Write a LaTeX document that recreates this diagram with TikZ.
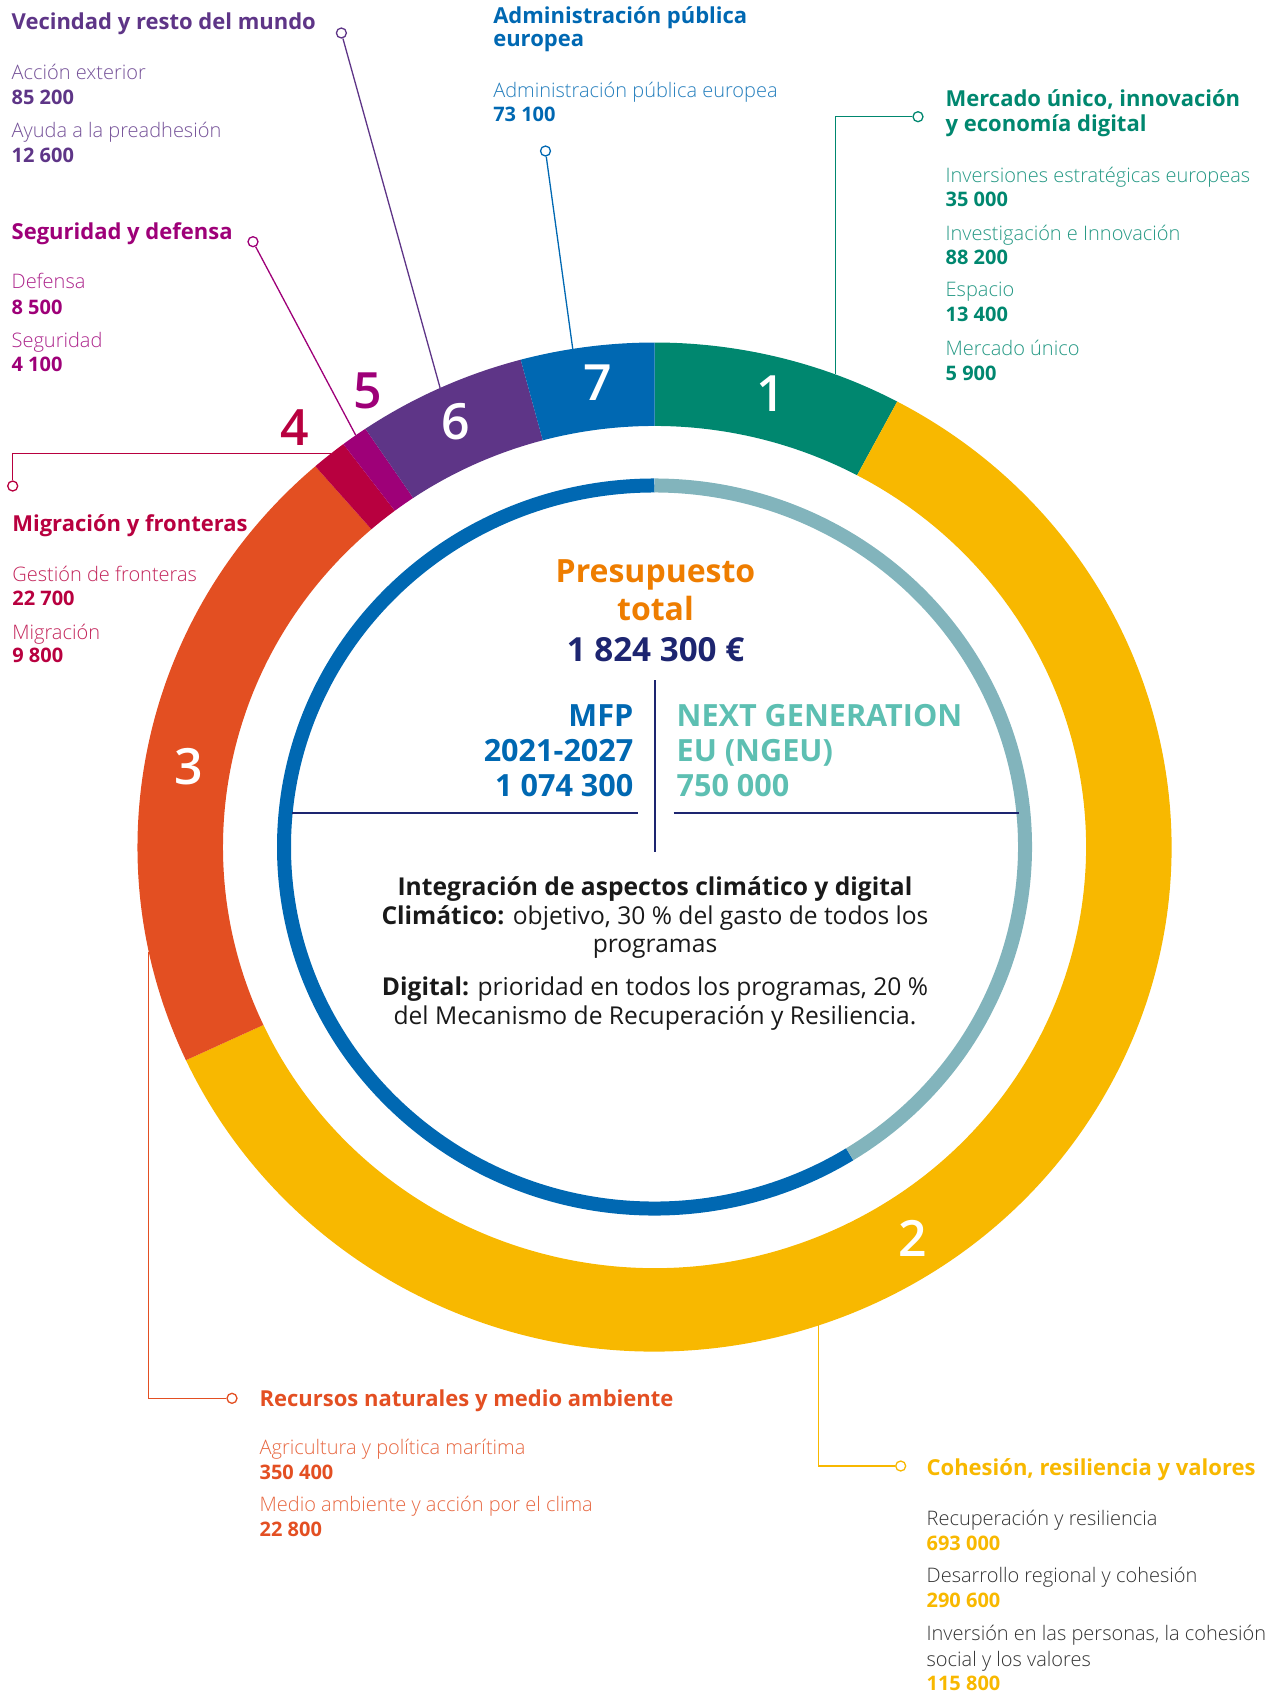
\documentclass[tikz,border=0pt]{standalone}
\usepackage{fontspec}
\setmainfont{Open Sans}
\IfFontExistsTF{Open Sans Light}
  {\newfontfamily\lightfont{Open Sans Light}}
  {\newfontfamily\lightfont{Open Sans}}
\IfFontExistsTF{Open Sans Semibold}
  {\newfontfamily\semifont{Open Sans Semibold}}
  {\newfontfamily\semifont{Open Sans}}
\usepackage{tikz}
\usetikzlibrary{calc}
%%%%%%%%%% Colours
\definecolor{mkgreen}{HTML}{00876F}
\definecolor{cohyellow}{HTML}{F8B800}
\definecolor{natorange}{HTML}{E34F22}
\definecolor{migred}{HTML}{B8003F}
\definecolor{secmagenta}{HTML}{9E0078}
\definecolor{nbpurple}{HTML}{5E3587}
\definecolor{admblue}{HTML}{0068B2}
\definecolor{ngring}{HTML}{82B4BC}
\definecolor{ngtext}{HTML}{5DBFB2}
\definecolor{totorange}{HTML}{EE7D00}
\definecolor{navy}{HTML}{1D2570}
\definecolor{bodygrey}{HTML}{333333}
\tikzset{
every picture/.style={x=0.5pt, y=-0.5pt, line width=0.65pt},
%%%%%%%%%%  Node styles
dotnode/.style={circle, draw, fill=white, inner sep=0pt, minimum size=5pt},
segnum/.style={text=white, inner sep=0pt, font=\semifont\fontsize{25}{25}\selectfont},
outnum/.style={inner sep=0pt, font=\semifont\fontsize{25}{25}\selectfont},
heading/.style={anchor=base west, inner sep=0pt,
                font=\bfseries\fontsize{11}{13}\selectfont},
subitem/.style={anchor=base west, inner sep=0pt,
                font=\lightfont\fontsize{10}{12}\selectfont},
amount/.style={anchor=base west, inner sep=0pt,
               font=\bfseries\fontsize{10}{12}\selectfont},
%%%%%%% centre texts
total/.style={anchor=base, inner sep=0pt,
              font=\bfseries\fontsize{16}{18}\selectfont},
fundleft/.style={anchor=base east, inner sep=0pt, text=admblue,
                 font=\bfseries\fontsize{15.3}{17}\selectfont},
fundright/.style={anchor=base west, inner sep=0pt, text=ngtext,
                  font=\bfseries\fontsize{15.3}{17}\selectfont},
bodyline/.style={anchor=base, inner sep=0pt, text=black!90,
                 font=\fontsize{12.3}{14}\selectfont},
%%%% line styles
divider/.style={navy, line width=1pt},
thinring/.style={line width=7pt}
}
% one coloured piece of the outer ring
\newcommand{\ringpart}[3]{%
  \fill[#1] (#2:517) arc[start angle=#2, end angle=#3, radius=517]
    -- (#3:431.5) arc[start angle=#3, end angle=#2, radius=431.5] -- cycle;}

\begin{document}
\begin{tikzpicture}
\useasboundingbox (0,0) rectangle (1280,1694);

%%%%%%% the rings
\begin{scope}[shift={(654.5,847)}, yscale=-0.9758]
\ringpart{mkgreen}{90}{62}
\ringpart{cohyellow}{62}{-155}
\ringpart{natorange}{205}{131}
\ringpart{migred}{131}{127}
\ringpart{secmagenta}{127}{124}
\ringpart{nbpurple}{124}{105}
\ringpart{admblue}{105}{90}
\draw[thinring, admblue] (90:370.5) arc[start angle=90, end angle=301.8, radius=370.5];
\draw[thinring, ngring] (-58.2:370.5) arc[start angle=-58.2, end angle=90, radius=370.5];
\coordinate (a1) at (69.5:517);
\coordinate (a2) at (-71.5:517);
\coordinate (a3) at (192:517);
\coordinate (a4) at (128.7:517);
\coordinate (a5) at (125.3:517);
\coordinate (a6) at (114.5:517);
\coordinate (a7) at (99.1:517);
\end{scope}

\node[segnum] (n1) at (771,394) {1};
\node[segnum] (n2) at (913,1238) {2};
\node[segnum] (n3) at (189,767) {3};
\node[segnum] (n6) at (456,422) {6};
\node[segnum] (n7) at (598,383) {7};
\node[outnum, text=secmagenta] (n5) at (368,391) {5};
\node[outnum, text=migred] (n4) at (295,428) {4};

%%%%%%% leaders
\node[dotnode, draw=mkgreen] (d1) at (918,116.7) {};
\node[dotnode, draw=cohyellow] (d2) at (900.7,1466) {};
\node[dotnode, draw=natorange] (d3) at (232,1398.3) {};
\node[dotnode, draw=migred] (d4) at (12.7,486) {};
\node[dotnode, draw=secmagenta] (d5) at (253,241.7) {};
\node[dotnode, draw=nbpurple] (d6) at (341.4,33) {};
\node[dotnode, draw=admblue] (d7) at (545.5,151) {};
\draw[mkgreen] (a1) |- (d1);
\draw[cohyellow] (a2) |- (d2);
\draw[natorange] (a3) |- (d3);
\draw[migred] (a4) -| (d4);
\draw[secmagenta] (a5) -- (d5);
\draw[nbpurple] (a6) -- (d6);
\draw[admblue] (a7) -- (d7);

%%%%%%% 6: Vecindad
\node[heading, text=nbpurple] (h6) at (11,29) {Vecindad y resto del mundo};
\node[subitem, text=nbpurple!85!white] (s6a) at (11,79) {Acción exterior};
\node[amount, text=nbpurple] (v6a) at (11,104) {85 200};
\node[subitem, text=nbpurple!85!white] (s6b) at (11,137) {Ayuda a la preadhesión};
\node[amount, text=nbpurple] (v6b) at (11,162) {12 600};

%%%%%%% 5: Seguridad
\node[heading, text=secmagenta] (h5) at (11,239) {Seguridad y defensa};
\node[subitem, text=secmagenta!85!white] (s5a) at (11,288) {Defensa};
\node[amount, text=secmagenta] (v5a) at (11,314) {8 500};
\node[subitem, text=secmagenta!85!white] (s5b) at (11,347) {Seguridad};
\node[amount, text=secmagenta] (v5b) at (11,371) {4 100};

%%%%%%% 7: Administracion
\node[heading, text=admblue] (h7) at (492.6,23.3) {Administración pública};
\node[heading, text=admblue] (h7b) at (492.6,46.7) {europea};
\node[subitem, text=admblue!85!white] (s7a) at (492.6,97.3) {Administración pública europea};
\node[amount, text=admblue] (v7a) at (492.6,121.7) {73 100};

%%%%%%% 1: Mercado unico
\node[heading, text=mkgreen] (h1) at (945,106.7) {Mercado único, innovación};
\node[heading, text=mkgreen] (h1b) at (945,131.7) {y economía digital};
\node[subitem, text=mkgreen!85!white] (s1a) at (945,182.7) {Inversiones estratégicas europeas};
\node[amount, text=mkgreen] (v1a) at (945,206) {35 000};
\node[subitem, text=mkgreen!85!white] (s1b) at (945,240) {Investigación e Innovación};
\node[amount, text=mkgreen] (v1b) at (945,264.3) {88 200};
\node[subitem, text=mkgreen!85!white] (s1c) at (945,296.7) {Espacio};
\node[amount, text=mkgreen] (v1c) at (945,321.7) {13 400};
\node[subitem, text=mkgreen!85!white] (s1d) at (945,355) {Mercado único};
\node[amount, text=mkgreen] (v1d) at (945,380) {5 900};

%%%%%%% 4: Migracion
\node[heading, text=migred] (h4) at (11.7,531.7) {Migración y fronteras};
\node[subitem, text=migred!85!white] (s4a) at (11.7,581.7) {Gestión de fronteras};
\node[amount, text=migred] (v4a) at (11.7,605) {22 700};
\node[subitem, text=migred!85!white] (s4b) at (11.7,639.3) {Migración};
\node[amount, text=migred] (v4b) at (11.7,662.7) {9 800};

%%%%%%% 3: Recursos naturales
\node[heading, text=natorange] (h3) at (259,1406) {Recursos naturales y medio ambiente};
\node[subitem, text=natorange!85!white] (s3a) at (259,1454) {Agricultura y política marítima};
\node[amount, text=natorange] (v3a) at (259,1479) {350 400};
\node[subitem, text=natorange!85!white] (s3b) at (259,1511.7) {Medio ambiente y acción por el clima};
\node[amount, text=natorange] (v3b) at (259,1536.7) {22 800};

%%%%%%% 2: Cohesion
\node[heading, text=cohyellow] (h2) at (926,1475) {Cohesión, resiliencia y valores};
\node[subitem, text=bodygrey] (s2a) at (926,1525) {Recuperación y resiliencia};
\node[amount, text=cohyellow] (v2a) at (926,1550) {693 000};
\node[subitem, text=bodygrey] (s2b) at (926,1582.7) {Desarrollo regional y cohesión};
\node[amount, text=cohyellow] (v2b) at (926,1607.7) {290 600};
\node[subitem, text=bodygrey] (s2c) at (926,1640.7) {Inversión en las personas, la cohesión};
\node[subitem, text=bodygrey] (s2d) at (926,1666) {social y los valores};
\node[amount, text=cohyellow] (v2c) at (926,1690) {115 800};

%%%%%%% centre
\node[total, text=totorange] (pres) at (655.5,582.7) {Presupuesto};
\node[total, text=totorange] (tot) at (655.5,620) {total};
\node[total, text=navy, font=\bfseries\fontsize{16.6}{18}\selectfont] (sum) at (655.5,661.7)
     {1 824 300 €};
\draw[divider] (655,680) -- (655,852);
\draw[divider] (292,813) -- (638,813);
\draw[divider] (673.5,813) -- (1019,813);
\node[fundleft] (mfp) at (634,726) {MFP};
\node[fundleft] (mfpy) at (634,761.7) {2021-2027};
\node[fundleft] (mfpv) at (634,796) {1 074 300};
\node[fundright] (ng) at (676,726) {NEXT GENERATION};
\node[fundright] (ngb) at (676,761.7) {EU (NGEU)};
\node[fundright] (ngv) at (676,796) {750 000};
\node[bodyline, font=\bfseries\fontsize{12.3}{14}\selectfont] (b1) at (655,895)
     {Integración de aspectos climático y digital};
\node[bodyline] (b2) at (655,924.3) {\textbf{Climático:} objetivo, 30 \% del gasto de todos los};
\node[bodyline] (b3) at (655,952.7) {programas};
\node[bodyline] (b4) at (655,995) {\textbf{Digital:} prioridad en todos los programas, 20 \%};
\node[bodyline] (b5) at (655,1024) {del Mecanismo de Recuperación y Resiliencia.};
\end{tikzpicture}
\end{document}
